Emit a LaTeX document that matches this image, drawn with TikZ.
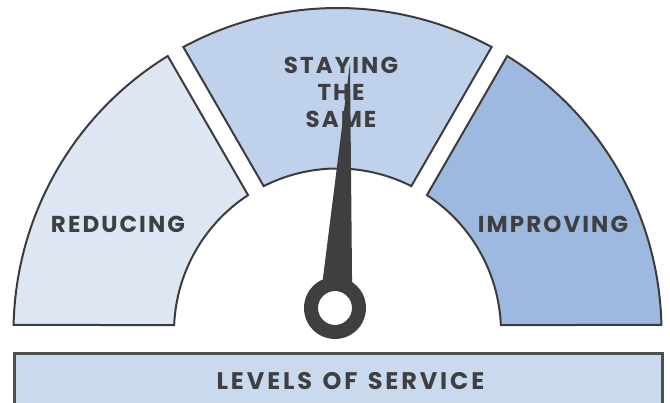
\documentclass[tikz,border=0pt]{standalone}
\usepackage{fontspec}
\newfontfamily\lblfont[LetterSpace=9]{Poppins}
\newfontfamily\barfont[LetterSpace=12,WordSpace=1.3]{Poppins}
\definecolor{segA}{HTML}{DEE6F3}
\definecolor{segB}{HTML}{C0D2EB}
\definecolor{segC}{HTML}{9DB9E0}
\definecolor{barfill}{HTML}{C9D9EE}
\definecolor{edge}{HTML}{3C3C3E}
\definecolor{ink}{HTML}{3F3F41}
\tikzset{
  seg/.style={draw=edge, line width=2pt, line join=miter},
  lbl/.style={text=ink, font=\lblfont\bfseries\fontsize{23}{26.8}\selectfont, align=center, inner sep=0pt},
  barlbl/.style={text=ink, font=\barfont\bfseries\fontsize{24}{28}\selectfont, inner sep=0pt},
  needlec/.style={fill=ink},
  barline/.style={draw=edge!90, line width=2.6pt}
}
\begin{document}
\begin{tikzpicture}[x=1pt,y=1pt]
\useasboundingbox (-337.5,-71) rectangle (332.5,332);
\coordinate (c) at (0,0);
% left segment
\draw[seg, fill=segA] (178.76:324pt) arc[start angle=178.76, end angle=121.59, radius=324pt]
  -- (123.16:163.5pt) arc[start angle=123.16, end angle=177.55, radius=163.5pt] -- cycle;
% middle segment
\draw[seg, fill=segB] (118.41:324pt) arc[start angle=118.41, end angle=61.59, radius=324pt]
  -- (63.16:163.5pt) arc[start angle=63.16, end angle=116.84, radius=163.5pt] -- cycle;
% right segment
\draw[seg, fill=segC] (58.41:324pt) arc[start angle=58.41, end angle=1.24, radius=324pt]
  -- (2.45:163.5pt) arc[start angle=2.45, end angle=56.84, radius=163.5pt] -- cycle;
% labels
\node[lbl] (reducing) at (-219.5,107.3) {REDUCING};
\node[lbl] (improving) at (215.5,107.3) {IMPROVING};
\node[lbl] (same) at (3.5,239.5) {STAYING\\THE\\SAME};
% needle
\fill[needlec] (-15.4,47) -- (12.5,269) -- (14.6,47) -- cycle;
\coordinate (pivot) at (-2.5,24);
\fill[needlec, even odd rule] (pivot) circle[radius=31pt] (pivot) circle[radius=17pt];
% bar
\node[fill=barfill, minimum width=647.3pt, minimum height=49.3pt, inner sep=0pt, anchor=north west] (bar) at (-322.8,-21.7) {};
\draw[barline] (bar.south west) -- (bar.north west) -- (bar.north east) -- (bar.south east);
\node[barlbl] (levels) at (13,-48.7) {LEVELS OF SERVICE};
\end{tikzpicture}
\end{document}
